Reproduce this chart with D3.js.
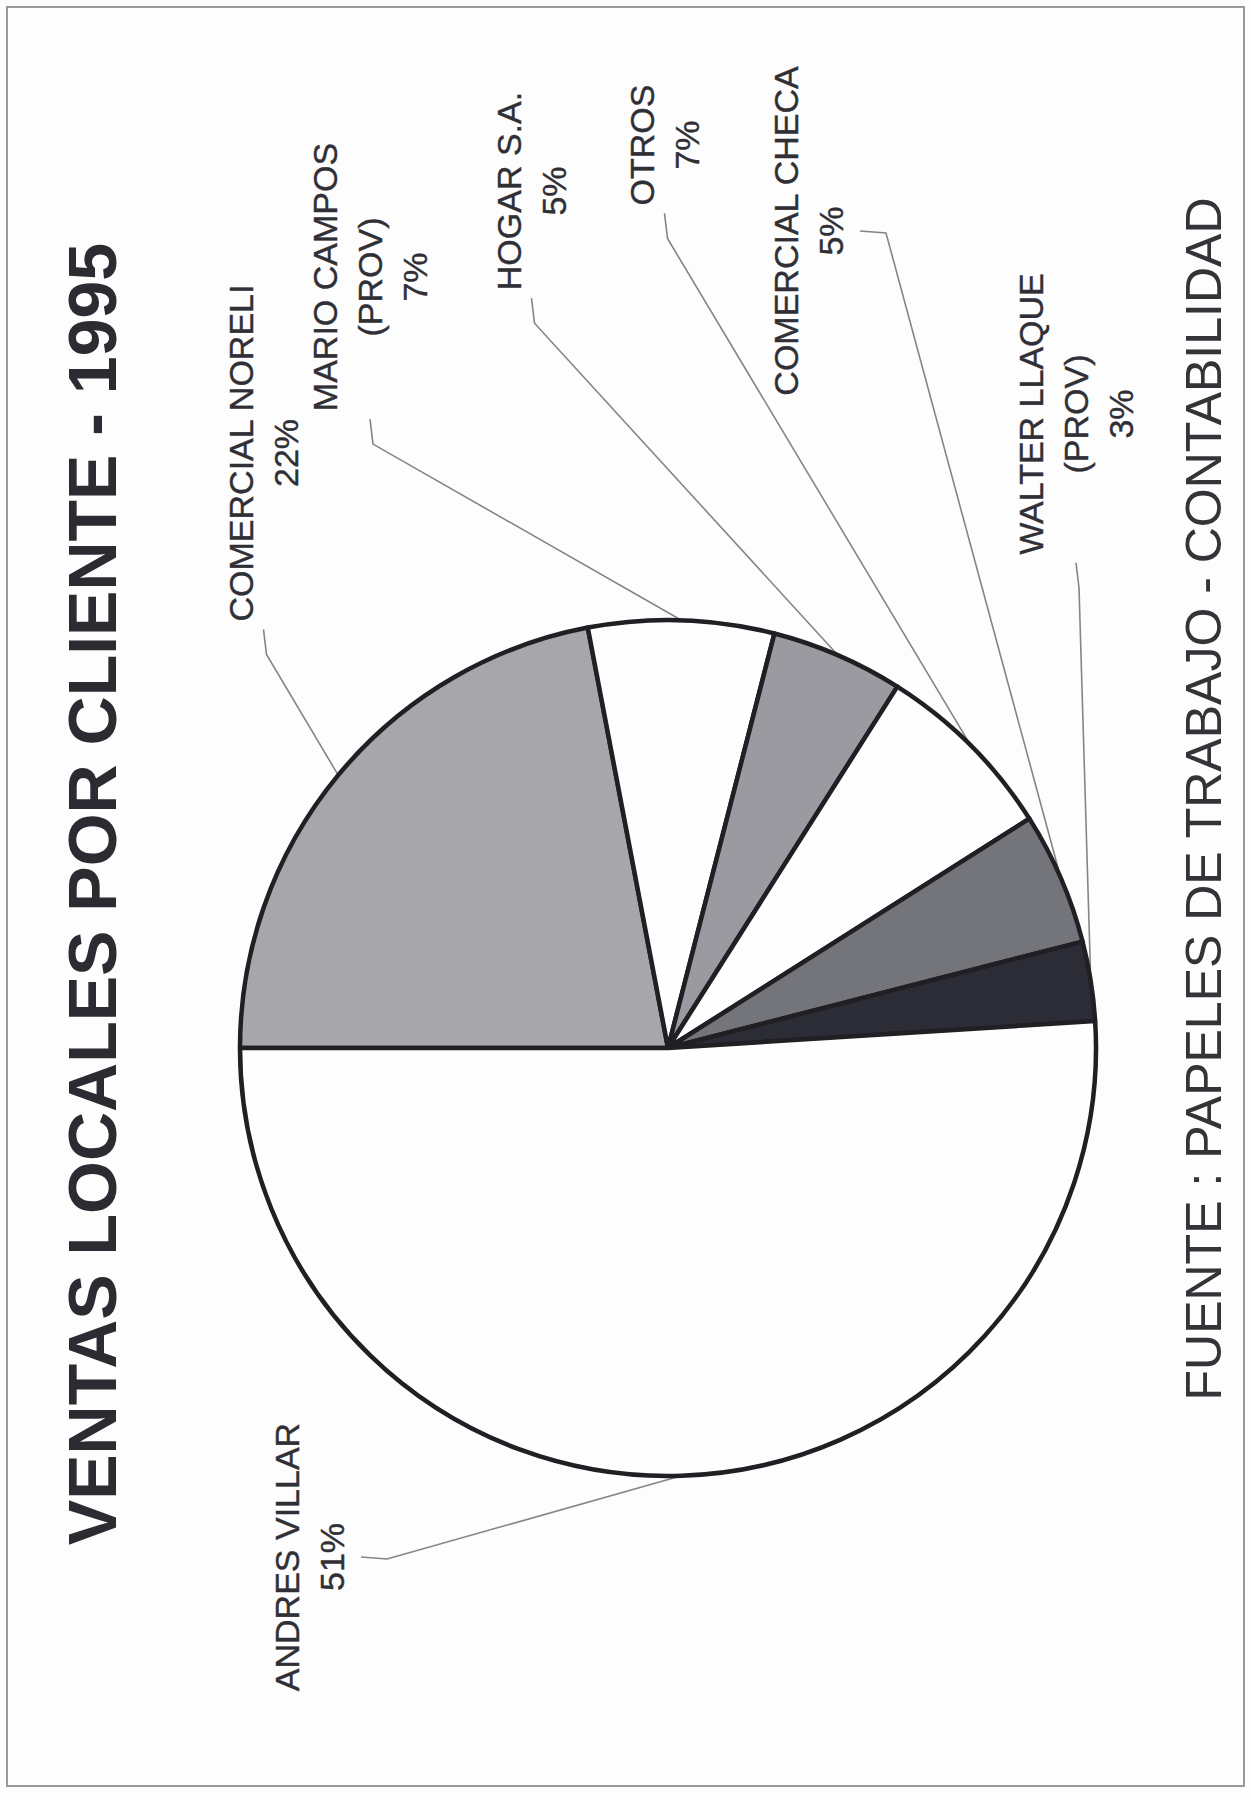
<!DOCTYPE html>
<html>
<head>
<meta charset="utf-8">
<script src="https://cdn.jsdelivr.net/npm/d3@7"></script>
<style>
  body { margin: 0; background: #fdfdfd; }
  svg { display: block; font-family: "Liberation Sans", Arial, sans-serif; }
</style>
</head>
<body>
<script>
// page size
var w = 1251;
var h = 1800;

// data (clockwise from 12 o'clock of the upright chart)
var clientes = [
  ["COMERCIAL NORELI"],
  ["MARIO CAMPOS", "(PROV)"],
  ["HOGAR S.A."],
  ["OTROS"],
  ["COMERCIAL CHECA"],
  ["WALTER LLAQUE", "(PROV)"],
  ["ANDRES VILLAR"]
];
var porcentajes = [22, 7, 5, 7, 5, 3, 51];
var tonos = ["#a6a6ab", "#fefefe", "#9a9aa0", "#fefefe", "#74747b", "#2c2c36", "#fefefe"];
var titulo = "VENTAS LOCALES POR CLIENTE - 1995";
var fuente = "FUENTE : PAPELES DE TRABAJO - CONTABILIDAD";

// label layout in the upright frame: [x centre, first line centre], where the leader leaves
var etiquetaPos = [[1347, 241], [1523, 325], [1609, 509], [1655, 642], [1569, 786], [1386, 1031], [243, 287]];
var guia = ["lado", "lado", "lado", "lado", "abajo", "lado", "abajo"];

var svg = d3.select("body")
  .append("svg")
  .attr("width", w)
  .attr("height", h);

svg.append("rect")
  .attr("x", 7).attr("y", 7)
  .attr("width", w - 14).attr("height", h - 21)
  .attr("fill", "none")
  .attr("stroke", "#9a9a9a")
  .attr("stroke-width", 2);

// the whole sheet is printed sideways
var g = svg.append("g")
  .attr("transform", "translate(0," + h + ") rotate(-90)");

var cx = 752, cy = 668, r = 428;

var pie = d3.pie().sort(null);
var arcs = pie(porcentajes);
var arc = d3.arc().innerRadius(0).outerRadius(r);

// leader lines first so the pie outline sits on top
var lineas = g.append("g");

g.append("g")
  .attr("transform", "translate(" + cx + "," + cy + ")")
  .selectAll("path")
  .data(arcs)
  .enter()
  .append("path")
  .attr("d", arc)
  .attr("fill", function(d, i) { return tonos[i]; })
  .attr("stroke", "#1f1f24")
  .attr("stroke-width", 4.5)
  .attr("stroke-linejoin", "round");

var etiquetas = g.selectAll("text.lab")
  .data(arcs)
  .enter()
  .append("text")
  .attr("class", "lab")
  .attr("text-anchor", "middle")
  .attr("font-size", 34)
  .attr("fill", "#2f2f35")
  .attr("stroke", "#2f2f35")
  .attr("stroke-width", 0.4);

etiquetas.each(function(d, i) {
  var t = d3.select(this);
  clientes[i].concat([porcentajes[i] + "%"]).forEach(function(txt, k) {
    t.append("tspan")
      .attr("x", etiquetaPos[i][0])
      .attr("y", etiquetaPos[i][1] + 12 + k * 45)
      .text(txt);
  });
});

etiquetas.each(function(d, i) {
  var bb = this.getBBox();
  var a = (d.startAngle + d.endAngle) / 2;
  var fin = [cx + r * Math.sin(a), cy - r * Math.cos(a)];
  var ini, codo;
  if (guia[i] === "lado") {
    ini = [bb.x - 8, bb.y + bb.height / 2];
    codo = [ini[0] - 25, ini[1] + 3];
  } else {
    ini = [etiquetaPos[i][0], bb.y + bb.height + 10];
    codo = [ini[0] - 2, ini[1] + 26];
  }
  lineas.append("path")
    .attr("d", d3.line()([ini, codo, fin]))
    .attr("fill", "none")
    .attr("stroke", "#858585")
    .attr("stroke-width", 1.6);
});

g.append("text")
  .attr("x", 906)
  .attr("y", 116)
  .attr("text-anchor", "middle")
  .attr("font-size", 68)
  .attr("font-weight", "bold")
  .attr("fill", "#2b2b31")
  .text(titulo);

g.append("text")
  .attr("x", 1001)
  .attr("y", 1221)
  .attr("text-anchor", "middle")
  .attr("font-size", 50)
  .attr("fill", "#333338")
  .text(fuente);
</script>
</body>
</html>
